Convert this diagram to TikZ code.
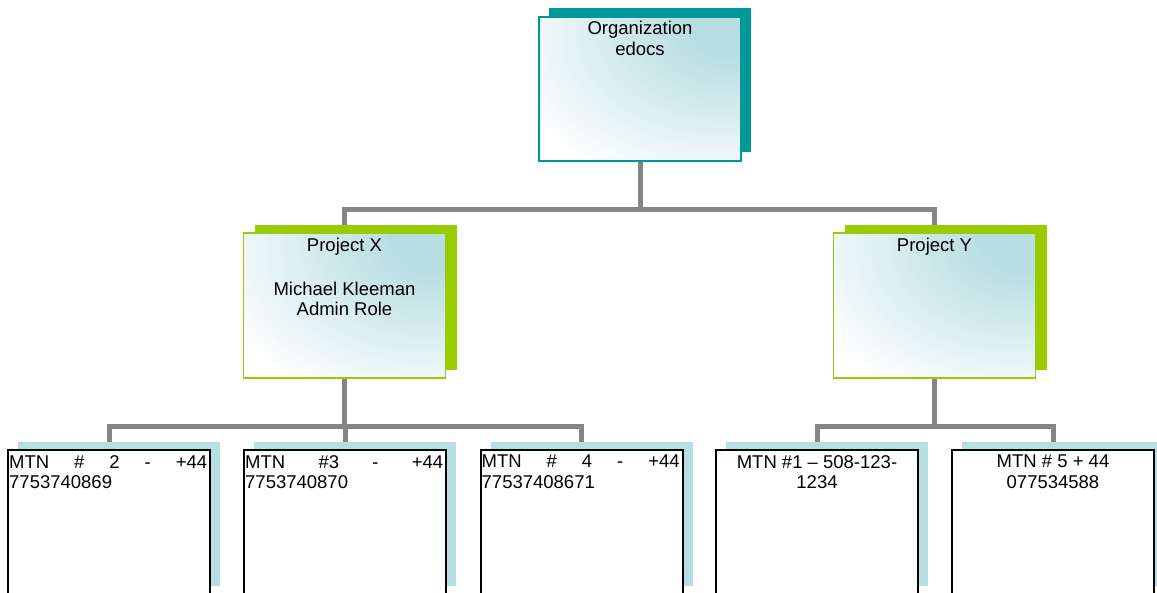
\documentclass[tikz,border=0pt]{standalone}
\usepackage{fontspec}
\setmainfont{Liberation Sans}
\usetikzlibrary{positioning, shadows, backgrounds}

\definecolor{orgteal}{HTML}{009999}
\definecolor{projgreen}{HTML}{99CC00}
\definecolor{leafblue}{HTML}{B7DFE3}
\definecolor{linegray}{HTML}{858585}
\definecolor{glowteal}{HTML}{B9DEE2}

\pgfdeclareradialshading{boxglow}{\pgfpoint{25bp}{25bp}}{color(0bp)=(glowteal); color(12bp)=(glowteal); color(52bp)=(white); color(160bp)=(white)}

\tikzset{
  elbow/.style={to path={(\tikztostart.south) -- ++(0,48) -| (\tikztotarget.north)}},
  topbox/.style={shading=boxglow, line width=1.5pt, minimum width=202pt, minimum height=145pt, inner sep=0pt},
  leafbox/.style={draw=black, fill=white, line width=2pt, minimum width=202pt, minimum height=144pt, inner sep=0pt,
    drop shadow={shadow xshift=10pt, shadow yshift=8pt, fill=leafblue, opacity=1}},
  boxtext/.style={inner sep=0pt, font=\fontsize{18.5}{20.5}\selectfont}
}

\begin{document}
\begin{tikzpicture}[x=1pt, y=-1pt]
\useasboundingbox (0,0) rectangle (1157,593);

\node (org) at (640, 89) [topbox, draw=orgteal, minimum height=144pt,
    drop shadow={shadow xshift=10pt, shadow yshift=9pt, fill=orgteal, opacity=1}] {};

\begin{scope}[every node/.style={topbox, draw=projgreen,
    drop shadow={shadow xshift=11pt, shadow yshift=8pt, fill=projgreen, opacity=1}}]
    \node (px) at (344.5, 305.5) {};
    \node (py) at (934.5, 305.5) {};
\end{scope}

\begin{scope}[every node/.style={leafbox}]
    \node (m2) at (109, 522) {};
    \node (m3) at (345, 522) {};
    \node (m4) at (581.5, 522) {};
    \node (m1) at (817, 522) {};
    \node (m5) at (1053, 522) {};
\end{scope}

\begin{scope}[every node/.style={boxtext, align=center}]
    \node (orgtxt) [below=5pt of org.north] {Organization\\edocs};
    \node (pxtxt) [below=6pt of px.north] {Project X\\[23pt]Michael Kleeman\\Admin Role};
    \node (pytxt) [below=6pt of py.north] {Project Y};
    \node (m1txt) [below=6pt of m1.north] {MTN \#1 – 508-123-\\1234};
    \node (m5txt) [below=6pt of m5.north] {MTN \# 5 + 44\\077534588};
\end{scope}

\begin{scope}[every node/.style={boxtext, align=left}]
    \node (m2txt) [below right=6pt and 2pt of m2.north west] {\makebox[198pt][s]{MTN \# 2 - +44}\\7753740869};
    \node (m3txt) [below right=6pt and 2pt of m3.north west] {\makebox[198pt][s]{MTN \#3 - +44}\\7753740870};
    \node (m4txt) [below right=6pt and 2pt of m4.north west] {\makebox[198pt][s]{MTN \# 4 - +44}\\77537408671};
\end{scope}

\begin{scope}[on background layer, every edge/.style={draw=linegray, line width=5pt}]
    \path (org) edge[elbow] (px);
    \path (org) edge[elbow] (py);

    \path (px) edge[elbow] (m2);
    \path (px) edge[elbow] (m3);
    \path (px) edge[elbow] (m4);

    \path (py) edge[elbow] (m1);
    \path (py) edge[elbow] (m5);
\end{scope}
\end{tikzpicture}
\end{document}
